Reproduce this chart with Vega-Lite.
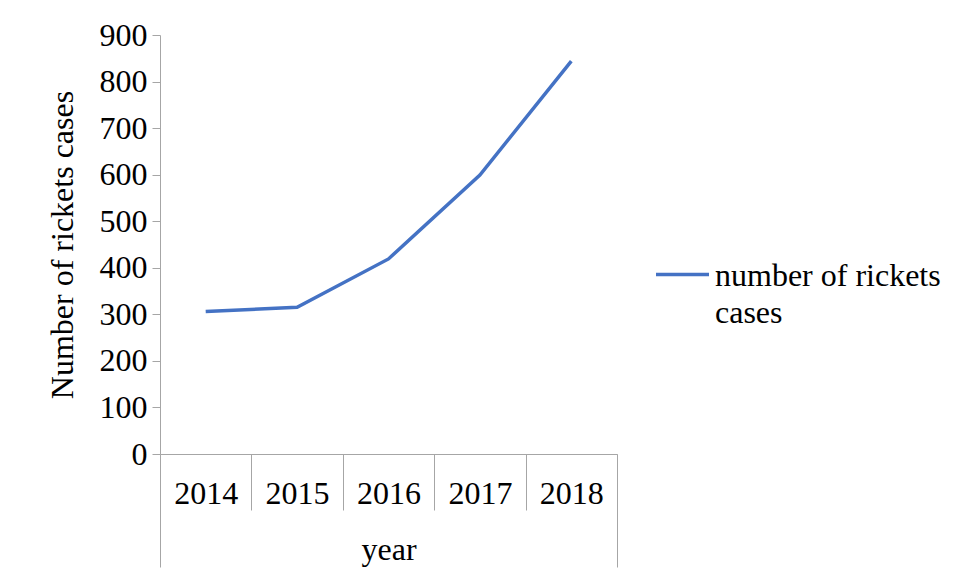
{
  "$schema": "https://vega.github.io/schema/vega-lite/v6.json",
  "autosize": "none",
  "width": 457,
  "height": 419,
  "padding": {"left": 160, "top": 35, "right": 342, "bottom": 124},
  "background": "white",
  "data": {
    "values": [
      {"year": "2014", "cases": 306, "series": "number of rickets cases"},
      {"year": "2015", "cases": 315, "series": "number of rickets cases"},
      {"year": "2016", "cases": 419, "series": "number of rickets cases"},
      {"year": "2017", "cases": 599, "series": "number of rickets cases"},
      {"year": "2018", "cases": 844, "series": "number of rickets cases"}
    ]
  },
  "config": {
    "view": {"stroke": null},
    "font": "Liberation Serif",
    "style": {"guide-label": {"lineHeight": 37}},
    "axis": {
      "labelFont": "Liberation Serif",
      "titleFont": "Liberation Serif",
      "labelFontSize": 32,
      "titleFontSize": 32,
      "labelColor": "black",
      "titleColor": "black",
      "titleFontWeight": "normal",
      "domainColor": "#A6A6A6",
      "tickColor": "#A6A6A6",
      "grid": false
    },
    "legend": {
      "labelFont": "Liberation Serif",
      "labelFontSize": 32,
      "labelColor": "black"
    }
  },
  "resolve": {"axis": {"x": "independent"}},
  "layer": [
    {
      "mark": {"type": "line", "strokeWidth": 3.5},
      "encoding": {
        "x": {
          "field": "year",
          "type": "ordinal",
          "scale": {"type": "band", "paddingInner": 0, "paddingOuter": 0},
          "axis": {
            "orient": "bottom",
            "title": "year",
            "labelAngle": 0,
            "tickBand": "extent",
            "tickSize": 56,
            "labelPadding": -32,
            "titlePadding": 24,
            "domainColor": "#A6A6A6"
          }
        },
        "y": {
          "field": "cases",
          "type": "quantitative",
          "scale": {"domain": [0, 900], "nice": false},
          "axis": {
            "title": "Number of rickets cases",
            "values": [0, 100, 200, 300, 400, 500, 600, 700, 800, 900],
            "tickSize": 8,
            "labelPadding": 5,
            "titlePadding": 20
          }
        },
        "color": {
          "field": "series",
          "type": "nominal",
          "scale": {"range": ["#4472C4"]},
          "legend": {
            "title": null,
            "orient": "none",
            "legendX": 494,
            "legendY": 222,
            "symbolType": "M-1,-0.415H1",
            "symbolSize": 2809,
            "symbolStrokeWidth": 3.5,
            "symbolFillColor": "transparent",
            "labelOffset": 4,
            "labelBaseline": "alphabetic",
            "labelLimit": 400,
            "labelExpr": "['number of rickets', 'cases']"
          }
        }
      }
    },
    {
      "mark": {"type": "line", "opacity": 0},
      "encoding": {
        "x": {
          "field": "year",
          "type": "ordinal",
          "axis": {
            "orient": "bottom",
            "title": null,
            "labels": false,
            "domain": false,
            "values": ["2018"],
            "bandPosition": 1,
            "tickExtra": false,
            "tickSize": 113
          }
        },
        "y": {"field": "cases", "type": "quantitative"}
      }
    },
    {
      "mark": {"type": "line", "opacity": 0},
      "encoding": {
        "x": {
          "field": "year",
          "type": "ordinal",
          "axis": {
            "orient": "bottom",
            "title": null,
            "labels": false,
            "domain": false,
            "values": ["2014"],
            "bandPosition": 0,
            "tickExtra": false,
            "tickSize": 113
          }
        },
        "y": {"field": "cases", "type": "quantitative"}
      }
    }
  ]
}
